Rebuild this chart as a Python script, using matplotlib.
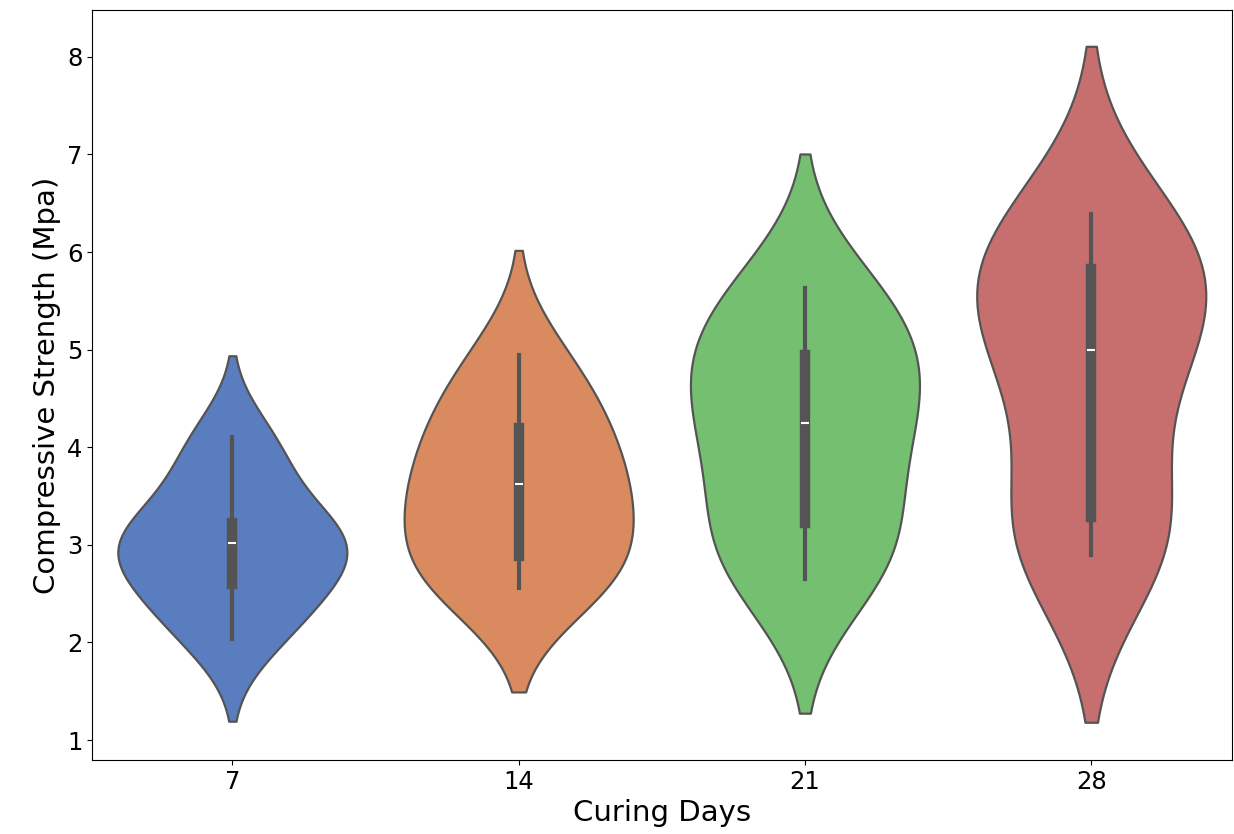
import numpy as np
import pandas as pd
import matplotlib
matplotlib.use("Agg")
import matplotlib.pyplot as plt
import seaborn as sns

# curing days and measured compressive strength (Mpa)
days = ["7", "14", "21", "28"]
strength_7 = [2.03, 2.35, 2.6, 2.85, 3.02, 3.1, 3.22, 3.75, 4.1]
strength_14 = [2.56, 2.62, 2.89, 3.25, 3.62, 3.65, 4.2, 4.4, 4.95]
strength_21 = [2.65, 2.9, 3.22, 3.9, 4.25, 4.6, 4.95, 5.3, 5.63]
strength_28 = [2.9, 3.1, 3.29, 4.6, 5.0, 5.5, 5.83, 5.95, 6.39]

werte = [strength_7, strength_14, strength_21, strength_28]
df = pd.DataFrame({
    "Curing Days": np.repeat(days, [len(w) for w in werte]),
    "Compressive Strength (Mpa)": np.concatenate(werte),
})

fig = plt.figure(figsize=(12.34, 8.34), dpi=100)
ax = fig.add_axes([0.0746, 0.0887, 0.9234, 0.8993])

sns.violinplot(data=df, x="Curing Days", y="Compressive Strength (Mpa)",
               hue="Curing Days", palette="muted", legend=False,
               density_norm="width", linewidth=1.6,
               inner_kws=dict(box_width=7.5, whis_width=3), ax=ax)

ax.set_xlim(-0.49, 3.49)
ax.set_ylim(0.795, 8.48)
ax.set_xlabel("Curing Days", fontsize=21)
ax.set_ylabel("Compressive Strength (Mpa)", fontsize=21)
ax.tick_params(labelsize=17.5)

fig.savefig("out.png", dpi=100)
